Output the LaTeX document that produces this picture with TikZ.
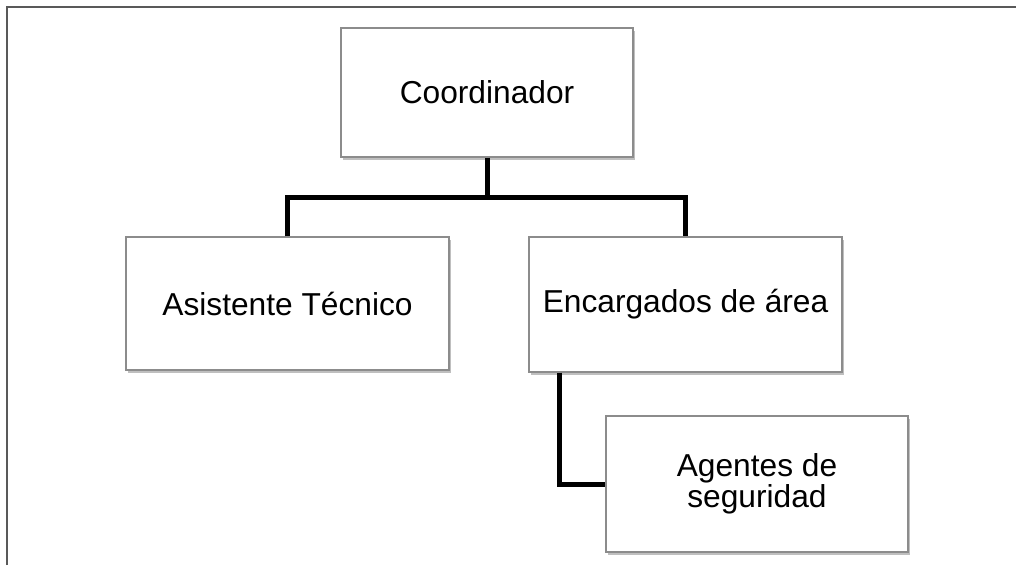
\documentclass[tikz,border=0pt]{standalone}
\usepackage{fontspec}
\setmainfont{Liberation Sans}
\usetikzlibrary{shadows}
\begin{document}
\begin{tikzpicture}[x=1pt,y=-1pt,
  box/.style={draw=black!45, line width=1.1pt, fill=white, align=center,
    font=\fontsize{31.7}{31}\selectfont, inner sep=0pt,
    drop shadow={shadow xshift=1.5pt, shadow yshift=-2.5pt, fill=black, opacity=0.25}},
  conn/.style={line width=5pt, line join=miter, black},
  frame/.style={line width=2pt, black!65}]
\useasboundingbox (0,0) rectangle (1016,565);
\draw[frame] (7,565) -- (7,7) -- (1016,7);
\node[box, minimum width=292pt, minimum height=129pt] (coord) at (487,92.5) {Coordinador};
\node[box, minimum width=323pt, minimum height=133pt] (asist) at (287.5,303.5) {Asistente Técnico};
\node[box, minimum width=313pt, minimum height=135pt] (enc) at (685.5,304.5) {Encargados de área};
\node[box, minimum width=302pt, minimum height=136pt] (ag) at (757,484) {Agentes de\\seguridad};
\coordinate (j) at (487,197);
\draw[conn] (coord.south) -- (j);
\draw[conn] (asist.north) |- (j) -| (enc.north);
\draw[conn] ([xshift=31pt]enc.south west) |- (ag.west);
\end{tikzpicture}
\end{document}
